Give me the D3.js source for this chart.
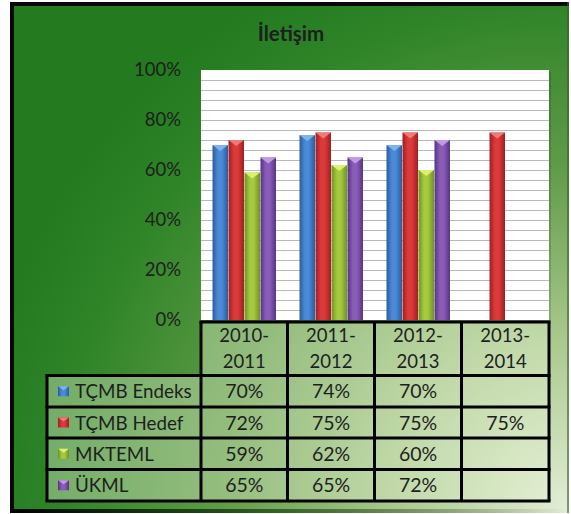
<!DOCTYPE html>
<html>
<head>
<meta charset="utf-8">
<script src="https://cdn.jsdelivr.net/npm/d3@7"></script>
<style>
  body { margin: 0; background: #fff; }
  text { font-family: Lato, "Open Sans", sans-serif; fill: #1e1e1e; }
</style>
</head>
<body>
<script>
// data
var categories = ["2010-2011", "2011-2012", "2012-2013", "2013-2014"];
var seriesNames = ["TÇMB Endeks", "TÇMB Hedef", "MKTEML", "ÜKML"];
var endeks = [70, 74, 70, null];
var hedef = [72, 75, 75, 75];
var mkteml = [59, 62, 60, null];
var ukml = [65, 65, 72, null];
var yTicks = [0, 20, 40, 60, 80, 100];

var seriesValues = [endeks, hedef, mkteml, ukml];
var colors = [
  { dark: "#2a5c9e", mid: "#4a8ad6", top: "#7fb2ee" },
  { dark: "#9e1f22", mid: "#dc3a3a", top: "#f07a78" },
  { dark: "#6f9225", mid: "#a6c940", top: "#dcef70" },
  { dark: "#553480", mid: "#8a5cb8", top: "#c09ae6" }
];

var W = 571, H = 514;
var svg = d3.select("body").append("svg").attr("width", W).attr("height", H);
var defs = svg.append("defs");

var bg = defs.append("radialGradient").attr("id", "bg")
  .attr("gradientUnits", "userSpaceOnUse")
  .attr("cx", 568).attr("cy", 512).attr("r", 600);
bg.append("stop").attr("offset", 0).attr("stop-color", "#e3eed6");
bg.append("stop").attr("offset", 0.3).attr("stop-color", "#a7c78a");
bg.append("stop").attr("offset", 0.58).attr("stop-color", "#5f9b46");
bg.append("stop").attr("offset", 0.85).attr("stop-color", "#2f8428");
bg.append("stop").attr("offset", 1).attr("stop-color", "#237a1f");

colors.forEach(function(c, i) {
  var g = defs.append("linearGradient").attr("id", "bar" + i)
    .attr("x1", 0).attr("x2", 1).attr("y1", 0).attr("y2", 0);
  g.append("stop").attr("offset", 0).attr("stop-color", c.dark);
  g.append("stop").attr("offset", 0.35).attr("stop-color", c.mid);
  g.append("stop").attr("offset", 0.6).attr("stop-color", c.mid);
  g.append("stop").attr("offset", 1).attr("stop-color", c.dark);
});

var bottomFade = defs.append("linearGradient").attr("id", "bfade")
  .attr("x1", 0).attr("x2", 1).attr("y1", 0).attr("y2", 0);
bottomFade.append("stop").attr("offset", 0).attr("stop-color", "#000").attr("stop-opacity", 1);
bottomFade.append("stop").attr("offset", 0.5).attr("stop-color", "#0a3a08").attr("stop-opacity", 0.6);
bottomFade.append("stop").attr("offset", 1).attr("stop-color", "#000").attr("stop-opacity", 0);

// frame
svg.append("rect").attr("x", 10).attr("y", 2).attr("width", 559).attr("height", 511)
  .attr("fill", "url(#bg)");
svg.append("rect").attr("x", 10).attr("y", 2).attr("width", 559).attr("height", 4).attr("fill", "#050805");
svg.append("rect").attr("x", 10).attr("y", 2).attr("width", 4).attr("height", 511).attr("fill", "#050805");
svg.append("rect").attr("x", 10).attr("y", 509).attr("width", 559).attr("height", 4).attr("fill", "url(#bfade)");
svg.append("rect").attr("x", 567).attr("y", 2).attr("width", 2).attr("height", 511).attr("fill", "#3d5a35").attr("opacity", 0.6);

// title
svg.append("text").attr("x", 291).attr("y", 41).attr("text-anchor", "middle")
  .attr("font-size", 20.5).attr("font-weight", "bold").text("İletişim");

// scales
var x = d3.scaleBand().domain(categories).range([201, 549]);
var xs = d3.scaleBand().domain(seriesNames).range([0, x.bandwidth()])
  .paddingOuter(0.72).paddingInner(0);
var y = d3.scaleLinear().domain([0, 100]).range([320, 70]);

// plot area
svg.append("rect").attr("x", 203).attr("y", 72).attr("width", 348).attr("height", 250)
  .attr("fill", "#000").attr("opacity", 0.15);
svg.append("rect").attr("x", 201).attr("y", 70).attr("width", 348).attr("height", 250)
  .attr("fill", "#fff");
svg.append("g").selectAll("line").data(d3.range(4, 100, 4)).join("line")
  .attr("x1", 201).attr("x2", 549)
  .attr("y1", function(d) { return Math.round(y(d)) + 0.5; })
  .attr("y2", function(d) { return Math.round(y(d)) + 0.5; })
  .attr("stroke", "#b9b9b9").attr("stroke-width", 1);

// y axis
var yAxis = svg.append("g").attr("transform", "translate(201,0)")
  .call(d3.axisLeft(y).tickValues(yTicks).tickSize(0).tickPadding(20)
    .tickFormat(function(d) { return d + "%"; }));
yAxis.select(".domain").remove();
yAxis.selectAll("text").attr("font-size", 18.5).attr("font-family", "Lato, sans-serif").attr("fill", "#1e1e1e");

// bars
var barData = [];
seriesValues.forEach(function(vals, si) {
  vals.forEach(function(v, ci) {
    if (v != null) barData.push({ s: si, c: ci, v: v });
  });
});
var bars = svg.append("g").selectAll("g").data(barData).join("g");
bars.append("rect")
  .attr("x", function(d) { return x(categories[d.c]) + xs(seriesNames[d.s]); })
  .attr("y", function(d) { return y(d.v); })
  .attr("width", xs.bandwidth() - 0.5)
  .attr("height", function(d) { return y(0) - y(d.v); })
  .attr("fill", function(d) { return "url(#bar" + d.s + ")"; });
bars.append("path")
  .attr("d", function(d) {
    var x0 = x(categories[d.c]) + xs(seriesNames[d.s]), w = xs.bandwidth() - 0.5, t = y(d.v);
    return "M" + x0 + "," + t + "L" + (x0 + w) + "," + t + "L" + (x0 + w / 2) + "," + (t + 6) + "Z";
  })
  .attr("fill", function(d) { return colors[d.s].top; });

// data table
var rowEdges = [322, 375.5, 407, 438, 469.5, 501];
var colEdges = [47, 201, 287.5, 374.5, 461.5, 549];
var cellFill = "rgba(235,245,215,0.38)";
var table = svg.append("g");

// header cells
categories.forEach(function(c, i) {
  table.append("rect").attr("x", colEdges[i + 1]).attr("y", rowEdges[0])
    .attr("width", colEdges[i + 2] - colEdges[i + 1]).attr("height", rowEdges[1] - rowEdges[0])
    .attr("fill", cellFill);
  var parts = c.split("-");
  var cx = (colEdges[i + 1] + colEdges[i + 2]) / 2;
  table.append("text").attr("x", cx).attr("y", 342).attr("text-anchor", "middle")
    .attr("font-size", 18.5).text(parts[0] + "-");
  table.append("text").attr("x", cx).attr("y", 368).attr("text-anchor", "middle")
    .attr("font-size", 18.5).text(parts[1]);
});

// body rows
seriesNames.forEach(function(name, si) {
  var y0 = rowEdges[si + 1], y1 = rowEdges[si + 2], cy = (y0 + y1) / 2;
  for (var ci = 0; ci < 5; ci++) {
    table.append("rect").attr("x", colEdges[ci]).attr("y", y0)
      .attr("width", colEdges[ci + 1] - colEdges[ci]).attr("height", y1 - y0)
      .attr("fill", cellFill);
  }
  table.append("rect").attr("x", 58).attr("y", cy - 5).attr("width", 11).attr("height", 10)
    .attr("fill", "url(#bar" + si + ")");
  table.append("path")
    .attr("d", "M58," + (cy - 5) + "L69," + (cy - 5) + "L63.5," + (cy - 1) + "Z")
    .attr("fill", colors[si].top);
  table.append("text").attr("x", 75).attr("y", cy + 7).attr("font-size", 18.8).text(name);
  seriesValues[si].forEach(function(v, ci) {
    if (v == null) return;
    table.append("text").attr("x", (colEdges[ci + 1] + colEdges[ci + 2]) / 2).attr("y", cy + 7)
      .attr("text-anchor", "middle").attr("font-size", 19.5).text(v + "%");
  });
});

// grid lines of the table
var lineW = 3;
table.append("g").selectAll("line").data(rowEdges).join("line")
  .attr("x1", function(d, i) { return i === 0 ? 201 - lineW / 2 : 47 - lineW / 2; })
  .attr("x2", 549 + lineW / 2)
  .attr("y1", function(d) { return d; }).attr("y2", function(d) { return d; })
  .attr("stroke", "#000").attr("stroke-width", lineW);
table.append("g").selectAll("line").data(colEdges).join("line")
  .attr("x1", function(d) { return d; }).attr("x2", function(d) { return d; })
  .attr("y1", function(d, i) { return i === 0 ? rowEdges[1] : rowEdges[0]; })
  .attr("y2", rowEdges[5])
  .attr("stroke", "#000").attr("stroke-width", lineW);
</script>
</body>
</html>
